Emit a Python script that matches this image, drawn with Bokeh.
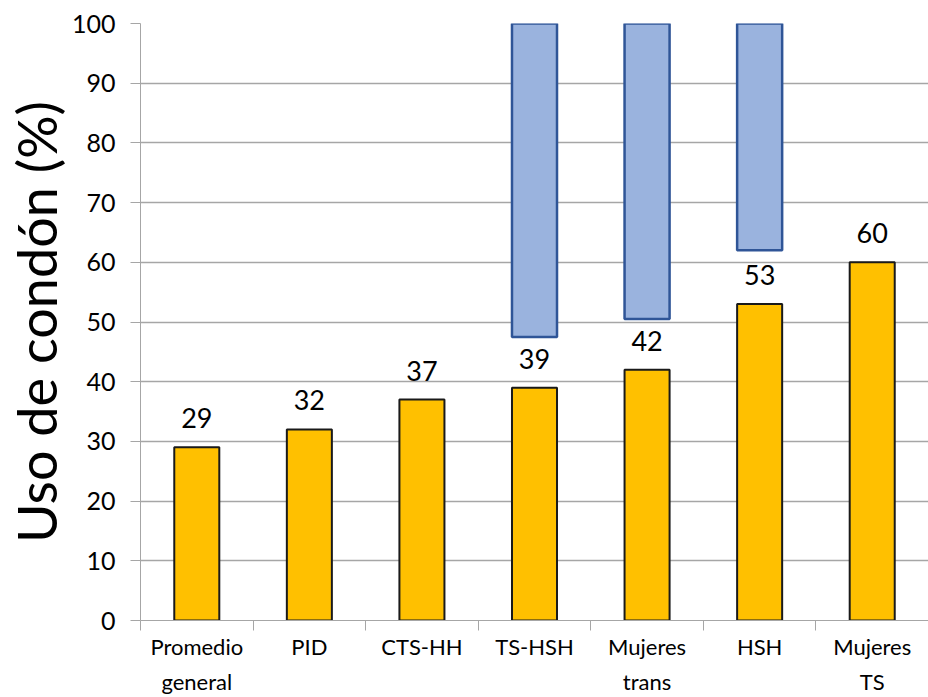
import numpy as np
from bokeh.plotting import figure
from bokeh.models import ColumnDataSource, FixedTicker, Range1d
from bokeh.core.properties import value
from bokeh.embed import file_html
from bokeh.resources import INLINE

# data
categories = ["Promedio\ngeneral", "PID", "CTS-HH", "TS-HSH", "Mujeres\ntrans", "HSH", "Mujeres\nTS"]
values = [29, 32, 37, 39, 42, 53, 60]
range_categories = ["TS-HSH", "Mujeres\ntrans", "HSH"]
range_low = [47.5, 50.5, 62.0]
range_high = [100, 100, 100]
y_ticks = [0, 10, 20, 30, 40, 50, 60, 70, 80, 90, 100]

FONT = "Lato"
n = len(categories)
centers = list(np.arange(n) + 0.5)
bounds = list(np.arange(n + 1).astype(float))

p = figure(width=928, height=697, output_backend="svg", toolbar_location=None,
           x_range=Range1d(0, n), y_range=Range1d(0, 100))
p.min_border_left = 140
p.min_border_top = 23
p.min_border_bottom = 77
p.min_border_right = 0
p.outline_line_color = None
p.background_fill_color = "white"
p.border_fill_color = "white"

src = ColumnDataSource(dict(x=centers, top=values, label=[str(v) for v in values]))
p.vbar(x="x", top="top", bottom=0, width=0.4, source=src,
       fill_color="#FFC000", line_color="#1a1a1a", line_width=2)

rx = [centers[categories.index(c)] for c in range_categories]
rsrc = ColumnDataSource(dict(x=rx, top=range_high, bottom=range_low))
p.vbar(x="x", top="top", bottom="bottom", width=0.4, source=rsrc,
       fill_color="#9AB3DE", line_color="#2F5597", line_width=2.5)

p.text(x="x", y="top", text="label", source=src, text_align="center",
       text_baseline="bottom", y_offset=-19, text_font=value(FONT),
       text_font_size="27px", text_color="#000000")

# y axis
p.yaxis.ticker = FixedTicker(ticks=y_ticks)
p.yaxis.major_tick_out = 10
p.yaxis.major_tick_in = 0
p.yaxis.minor_tick_out = 0
p.yaxis.minor_tick_in = 0
p.yaxis.axis_line_color = "#A6A6A6"
p.yaxis.major_tick_line_color = "#A6A6A6"
p.yaxis.major_label_text_font = FONT
p.yaxis.major_label_text_font_size = "25px"
p.yaxis.major_label_text_color = "#000000"
p.yaxis.major_label_standoff = 15
p.yaxis.axis_label = "Uso de condón (%)"
p.yaxis.axis_label_text_font = FONT
p.yaxis.axis_label_text_font_size = "54px"
p.yaxis.axis_label_text_font_style = "normal"
p.yaxis.axis_label_text_color = "#000000"
p.yaxis.axis_label_standoff = 0

# x axis
p.xaxis.ticker = FixedTicker(ticks=centers, minor_ticks=bounds)
p.xaxis.major_label_overrides = {c: lab for c, lab in zip(centers, categories)}
p.xaxis.major_tick_out = 0
p.xaxis.major_tick_in = 0
p.xaxis.minor_tick_out = 10
p.xaxis.minor_tick_in = 0
p.xaxis.minor_tick_line_color = "#A6A6A6"
p.xaxis.axis_line_color = "#A6A6A6"
p.xaxis.major_label_text_font = FONT
p.xaxis.major_label_text_font_size = "22px"
p.xaxis.major_label_text_line_height = 1.3
p.xaxis.major_label_text_color = "#000000"
p.xaxis.major_label_standoff = 2

p.xgrid.grid_line_color = None
p.ygrid.ticker = FixedTicker(ticks=y_ticks)
p.ygrid.grid_line_color = "#A6A6A6"
p.ygrid.grid_line_width = 1.5

open("out.html", "w").write(file_html(p, INLINE))
